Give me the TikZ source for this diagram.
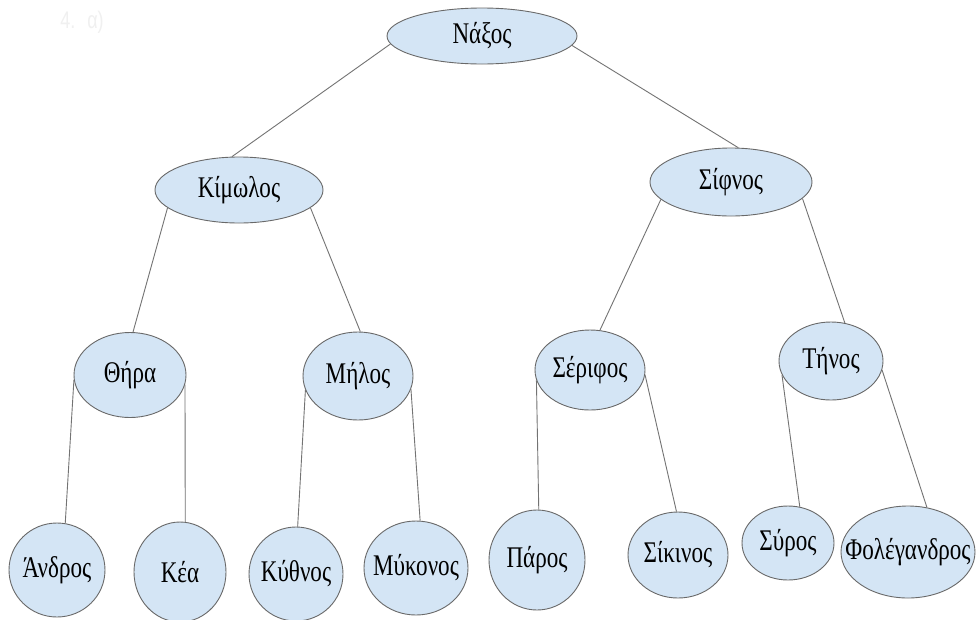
\documentclass[tikz,border=0pt]{standalone}
\usepackage{fontspec}
\setmainfont{Liberation Serif}[FakeStretch=0.77]
\newfontfamily\labelsans{Liberation Sans}[FakeStretch=0.75]
\usetikzlibrary{shapes.geometric}
\definecolor{islandfill}{RGB}{212,229,245}
\definecolor{islandedge}{RGB}{105,105,105}
\definecolor{branch}{RGB}{115,115,115}
\tikzset{
  islandtext/.style={inner sep=0pt, text=black, font=\fontsize{30}{34}\selectfont},
  % the ellipse keeps its given size; its name sits on it as a centred label
  island/.style={ellipse, draw=islandedge, line width=0.9pt, fill=islandfill,
    inner sep=0pt, label={[islandtext]center:#1}},
  branchline/.style={draw=branch, line width=0.9pt},
}
\begin{document}
\begin{tikzpicture}[x=1pt, y=-1pt]
  \useasboundingbox (0,0) rectangle (977,619);
  \fill[white] (0,0) rectangle (977,619);

  % faint heading
  \node[text=black!6, font=\labelsans\fontsize{24}{28}\selectfont] (head) at (82,22) {4.\enspace α)};

  % root and first level
  \node[island={Νάξος}, minimum width=190pt, minimum height=56pt] (naxos) at (482,36) {};
  \node[island={Κίμωλος}, minimum width=168pt, minimum height=66pt] (kimolos) at (239,190) {};
  \node[island={Σίφνος}, minimum width=162pt, minimum height=68pt] (sifnos) at (731,182) {};

  % second level
  \node[island={Θήρα}, minimum width=112pt, minimum height=85pt] (thira) at (130,375) {};
  \node[island={Μήλος}, minimum width=110pt, minimum height=88pt] (milos) at (358,376) {};
  \node[island={Σέριφος}, minimum width=110pt, minimum height=80pt] (serifos) at (590,370) {};
  \node[island={Τήνος}, minimum width=104pt, minimum height=78pt] (tinos) at (831,361) {};

  % leaves
  \node[island={Άνδρος}, minimum width=96pt, minimum height=94pt] (andros) at (57,570) {};
  \node[island={Κέα}, minimum width=92pt, minimum height=100pt] (kea) at (180,572) {};
  \node[island={Κύθνος}, minimum width=94pt, minimum height=94pt] (kythnos) at (296,574) {};
  \node[island={Μύκονος}, minimum width=104pt, minimum height=94pt] (mykonos) at (416,568) {};
  \node[island={Πάρος}, minimum width=96pt, minimum height=100pt] (paros) at (537,560) {};
  \node[island={Σίκινος}, minimum width=100pt, minimum height=86pt] (sikinos) at (678,555) {};
  \node[island={Σύρος}, minimum width=92pt, minimum height=74pt] (syros) at (788,543) {};
  \node[island={Φολέγανδρος}, minimum width=134pt, minimum height=92pt] (folegandros) at (908,552) {};

  % branches from each parent's rim to the top of its children
  \draw[branchline] (naxos.185) -- (kimolos.102);
  \draw[branchline] (naxos.354) -- (sifnos.78);
  \draw[branchline] (kimolos.194) -- (thira.86);
  \draw[branchline] (kimolos.346) -- (milos.87);
  \draw[branchline] (sifnos.194) -- (serifos.76);
  \draw[branchline] (sifnos.347) -- (tinos.70);
  \draw[branchline] (thira.185) -- (andros.80);
  \draw[branchline] (thira.350) -- (kea.84);
  \draw[branchline] (milos.195) -- (kythnos.88);
  \draw[branchline] (milos.346) -- (mykonos.85);
  \draw[branchline] (serifos.191) -- (paros.88);
  \draw[branchline] (serifos.355) -- (sikinos.92);
  \draw[branchline] (tinos.196) -- (syros.72);
  \draw[branchline] (tinos.350) -- (folegandros.67);
\end{tikzpicture}
\end{document}
